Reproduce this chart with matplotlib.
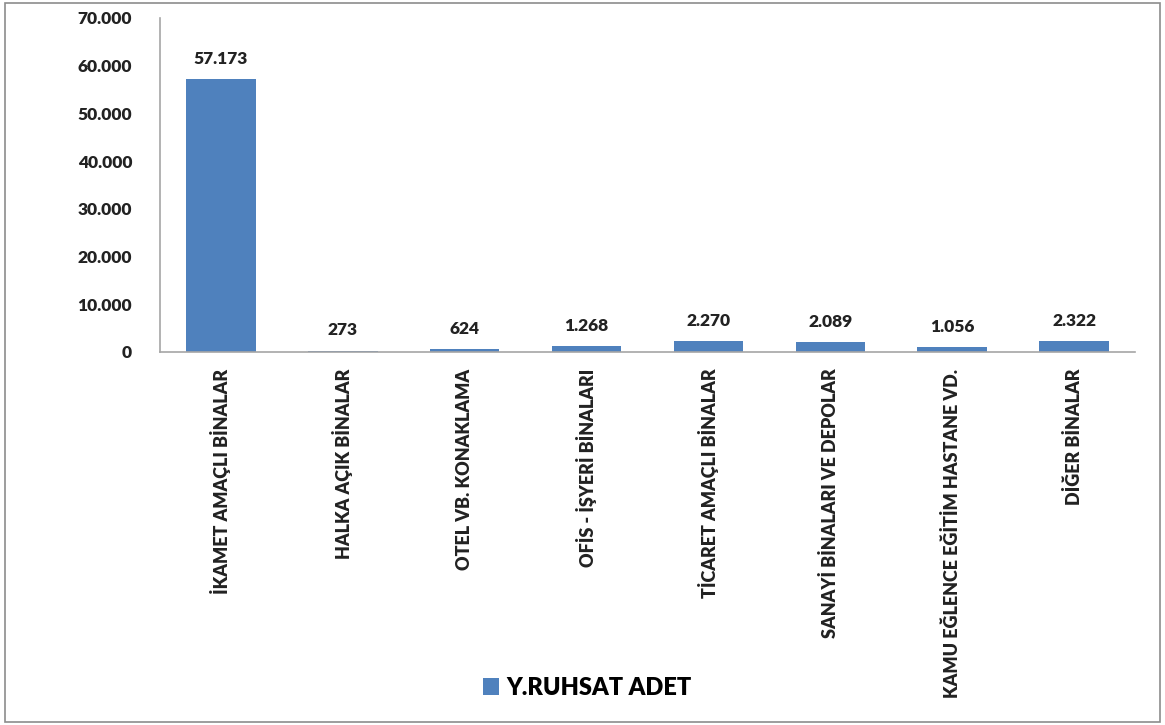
import matplotlib
matplotlib.use("Agg")
import matplotlib.pyplot as plt
from matplotlib.patches import Rectangle
from matplotlib.ticker import FuncFormatter

categories = ["İKAMET AMAÇLI BİNALAR", "HALKA AÇIK BİNALAR", "OTEL VB. KONAKLAMA",
              "OFİS - İŞYERİ BİNALARI", "TİCARET AMAÇLI BİNALAR",
              "SANAYİ BİNALARI VE DEPOLAR", "KAMU EĞLENCE EĞİTİM HASTANE VD.",
              "DİĞER BİNALAR"]
values = [57173, 273, 624, 1268, 2270, 2089, 1056, 2322]
series_name = "Y.RUHSAT ADET"
yticks = [0, 10000, 20000, 30000, 40000, 50000, 60000, 70000]

BLUE = "#4f81bd"
plt.rcParams["font.family"] = ["Lato", "DejaVu Sans"]


def tr_fmt(v, _=None):
    return f"{int(v):,}".replace(",", ".")


fig = plt.figure(figsize=(11.65, 7.25), dpi=100)
fig.patches.append(Rectangle((0.004, 0.004), 0.992, 0.992, transform=fig.transFigure,
                             fill=False, edgecolor="#8c8c8c", lw=1.2))
ax = fig.add_axes([0.1373, 0.5145, 0.837, 0.4607])

x = range(len(categories))
bars = ax.bar(x, values, width=0.57, color=BLUE, label=series_name)
for b, v in zip(bars, values):
    ax.text(b.get_x() + b.get_width() / 2, v + 2600, tr_fmt(v),
            ha="center", va="bottom", fontsize=12.5, fontweight="heavy", color="#222222")

ax.set_xlim(-0.5, len(categories) - 0.5)
ax.set_ylim(0, 70000)
ax.set_yticks(yticks)
ax.yaxis.set_major_formatter(FuncFormatter(tr_fmt))
ax.set_xticks(list(x))
ax.set_xticklabels(categories, rotation=90, fontsize=13, fontweight="heavy")
ax.tick_params(axis="both", length=0, colors="#222222")
ax.tick_params(axis="y", labelsize=12.5, pad=20)
ax.tick_params(axis="x", pad=12)
for lbl in ax.get_yticklabels():
    lbl.set_fontweight("heavy")
for s in ("top", "right"):
    ax.spines[s].set_visible(False)
for s in ("left", "bottom"):
    ax.spines[s].set_color("#a6a6a6")
    ax.spines[s].set_linewidth(1.2)

fig.legend(handles=[bars], labels=[series_name], loc="center",
           bbox_to_anchor=(0.504, 0.051), frameon=False, handlelength=0.7,
           handleheight=0.7, handletextpad=0.3,
           prop={"size": 17, "weight": "heavy"})

fig.savefig("out.png", dpi=100)
